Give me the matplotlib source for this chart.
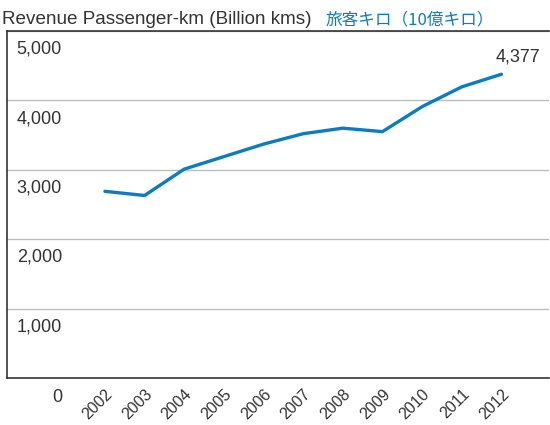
import matplotlib.pyplot as plt

years = [2002, 2003, 2004, 2005, 2006, 2007, 2008, 2009, 2010, 2011, 2012]
rpk = [2690, 2630, 3010, 3190, 3370, 3520, 3600, 3550, 3910, 4195, 4377]
y_ticks = [1000, 2000, 3000, 4000, 5000]
y_labels = ['1,000', '2,000', '3,000', '4,000', '5,000']

line_color = '#0a7cc4'
text_color = '#333333'
latin = ['Liberation Sans', 'DejaVu Sans']

fig = plt.figure(figsize=(5.5, 4.25), dpi=100)
ax = fig.add_axes([7/550, 1 - 378/425, 542/550, 347/425])

ax.plot(years, rpk, color=line_color, linewidth=2.4, solid_capstyle='round',
        solid_joinstyle='round', zorder=3)

ax.set_xlim(1999.53, 2013.2)
ax.set_ylim(0, 5000)

# gridlines at the thousands
ax.set_yticks(y_ticks)
ax.yaxis.grid(True, color='#bdbdbd', linewidth=1)
ax.tick_params(axis='y', length=0, labelleft=False)

# y labels sit inside the plot, just under each gridline
for v, lab in zip(y_ticks, y_labels):
    ax.annotate(lab, xy=(0, v), xycoords=('axes fraction', 'data'),
                xytext=(7, -7), textcoords='offset points', ha='left', va='top',
                fontsize=13, color=text_color, family=latin)
ax.annotate('0', xy=(0.092, 0), xycoords=('axes fraction', 'data'),
            xytext=(0, -8), textcoords='offset points', ha='center', va='top',
            fontsize=13, color=text_color, family=latin)

ax.set_xticks(years)
ax.set_xticklabels([str(y) for y in years], rotation=45, ha='right',
                   rotation_mode='anchor', fontsize=11.5, color=text_color,
                   family=latin)
ax.tick_params(axis='x', length=0, pad=6)

for s in ['left', 'bottom', 'top']:
    ax.spines[s].set_color('#333333')
    ax.spines[s].set_linewidth(1.2)
ax.spines['right'].set_visible(False)

ax.annotate(f'{rpk[-1]:,}', xy=(years[-1], rpk[-1]), xytext=(12, 6),
            textcoords='offset points', ha='center', va='bottom',
            fontsize=13, color=text_color, family=latin)

fig.text(2/550, 1 - 24/425, 'Revenue Passenger-km (Billion kms)',
         fontsize=13.6, color=text_color, family=latin, va='baseline')
fig.text(326/550, 1 - 24/425, '旅客キロ（10億キロ）', fontsize=12,
         color=line_color, family=['Noto Sans CJK JP', 'DejaVu Sans'],
         va='baseline')

fig.savefig('out.png', dpi=100)
